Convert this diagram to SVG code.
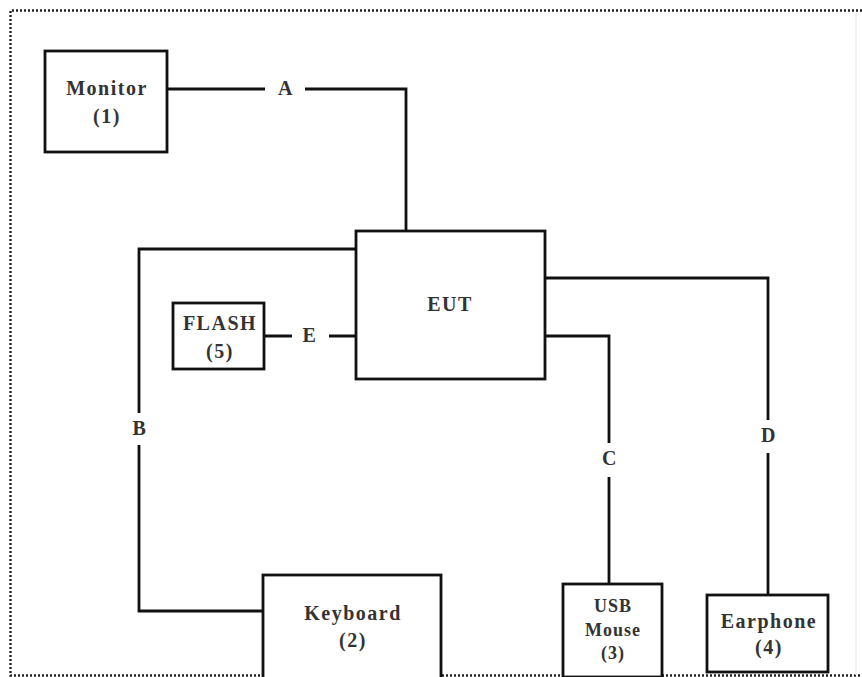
<svg xmlns="http://www.w3.org/2000/svg" width="862" height="677" viewBox="0 0 862 677">
<style>
.box{fill:#fff;stroke:#111;stroke-width:2.8}
.ln{fill:none;stroke:#111;stroke-width:2.8}
.t{font-family:"Liberation Serif","Times New Roman",serif;font-weight:bold;font-size:20px;fill:#333;text-anchor:middle;letter-spacing:1.5px}
.s{font-size:18px;letter-spacing:1px}
.dot{fill:none;stroke:#222;stroke-width:2.4;stroke-dasharray:2 2}
</style>
<rect width="862" height="677" fill="#fff"/>
<path class="dot" d="M862 10.5 H10.5 V675.5 H862"/>
<line x1="856" y1="12" x2="856" y2="675" stroke="#eee" stroke-width="1.5"/>
<g id="connectors">
  <path class="ln" d="M167 89 H265 M305 89 H406 V231"/>
  <text class="t" x="286" y="95">A</text>
  <path class="ln" d="M356 249 H139 V413 M139 445 V611 H263"/>
  <text class="t" x="140" y="435">B</text>
  <path class="ln" d="M545 336 H609 V443 M609 477 V584"/>
  <text class="t" x="610" y="465">C</text>
  <path class="ln" d="M545 278 H768 V420 M768 453 V595"/>
  <text class="t" x="769" y="442">D</text>
  <path class="ln" d="M264 336 H292 M329 336 H356"/>
  <text class="t" x="310" y="342">E</text>
</g>
<g id="monitor">
  <rect class="box" x="45" y="51" width="122" height="101"/>
  <text class="t" x="107" y="95">Monitor</text>
  <text class="t" x="107" y="123">(1)</text>
</g>
<g id="eut">
  <rect class="box" x="356" y="231" width="189" height="148"/>
  <text class="t" x="450" y="311">EUT</text>
</g>
<g id="flash">
  <rect class="box" x="173" y="303" width="91" height="66"/>
  <text class="t" x="220" y="330">FLASH</text>
  <text class="t" x="220" y="358">(5)</text>
</g>
<g id="keyboard">
  <rect class="box" x="263" y="575" width="178" height="105"/>
  <text class="t" x="353" y="620">Keyboard</text>
  <text class="t" x="353" y="647">(2)</text>
</g>
<g id="usbmouse">
  <rect class="box" x="563" y="584" width="99" height="93"/>
  <text class="t s" x="613" y="612">USB</text>
  <text class="t s" x="613" y="636">Mouse</text>
  <text class="t s" x="613" y="659">(3)</text>
</g>
<g id="earphone">
  <rect class="box" x="707" y="595" width="121" height="77"/>
  <text class="t" x="769" y="628">Earphone</text>
  <text class="t" x="769" y="654">(4)</text>
</g>
</svg>
